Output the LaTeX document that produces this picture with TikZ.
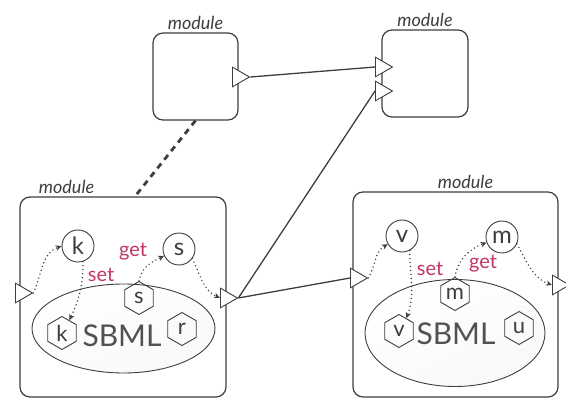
\documentclass[tikz,border=0pt]{standalone}
\usepackage{fontspec}
\setmainfont{Lato}
\usetikzlibrary{shapes.geometric,arrows.meta}

\definecolor{linegray}{RGB}{62,62,62}
\definecolor{setget}{RGB}{196,52,104}

\tikzset{
  modbox/.style={draw=linegray, line width=1.2pt, rounded corners=10pt},
  modlabel/.style={font=\itshape\fontsize{18}{18}\selectfont, text=linegray},
  port/.style={isosceles triangle, isosceles triangle apex angle=60, draw=linegray,
    fill=white, line width=0.9pt, inner sep=0pt, minimum size=17pt},
  state/.style={circle, draw=linegray, line width=0.9pt, inner sep=1pt,
    minimum size=32pt, font=\fontsize{24}{24}\selectfont, text=linegray},
  species/.style={regular polygon, regular polygon sides=6, shape border rotate=30,
    draw=linegray, line width=0.9pt, inner sep=0pt, minimum size=33pt,
    font=\fontsize{22}{22}\selectfont, text=linegray},
  sbml/.style={ellipse, draw=linegray, line width=0.9pt, top color=white,
    bottom color=red!5!gray!5, shading angle=25},
  sbmltext/.style={font=\fontsize{30}{30}\selectfont, text=linegray!90},
  access/.style={font=\fontsize{20}{20}\selectfont, text=setget},
  dotarr/.style={draw=linegray, line width=1.6pt, line cap=round,
    dash pattern=on 0pt off 4pt, -{Stealth[length=6pt,width=5.5pt]}},
  wire/.style={draw=linegray, line width=1.3pt},
}

\begin{document}
\begin{tikzpicture}[x=1pt,y=-1pt]
  \useasboundingbox (0,0) rectangle (566,401);

  % module boxes
  \node (tlbox) [modbox, minimum width=85pt, minimum height=87pt,
    label={[modlabel, label distance=-1pt]above:module}] at (195.5,76.5) {};
  \node (trbox) [modbox, minimum width=86pt, minimum height=87pt,
    label={[modlabel, label distance=-1pt]above:module}] at (425,73.5) {};
  \node (lbox) [modbox, minimum width=206pt, minimum height=200pt,
    label={[modlabel, anchor=south west, xshift=16pt, yshift=-1pt]north west:module}] at (123,297) {};
  \node (rbox) [modbox, minimum width=205pt, minimum height=205pt,
    label={[modlabel, xshift=10pt, label distance=-1pt]above:module}] at (455.5,294.5) {};

  % sbml models
  \node (lsbml) [sbml, minimum width=183pt, minimum height=89pt] at (123.5,328.5) {};
  \node (rsbml) [sbml, minimum width=180pt, minimum height=107pt] at (455,333) {};
  \node (ltext) [sbmltext] at (122,336) {SBML};
  \node (rtext) [sbmltext] at (456,334) {SBML};

  % ports
  \node (tlport) [port, anchor=west] at (232,77) {};
  \node (tr1) [port, anchor=west] at (375,67) {};
  \node (tr2) [port, anchor=west] at (375,91) {};
  \node (lin) [port, anchor=west] at (15,293) {};
  \node (lout) [port, anchor=west] at (220,298) {};
  \node (rin) [port, anchor=west] at (350,278) {};
  \node (rout) [port, anchor=west] at (552,285) {};

  % variables of the left module
  \node (k) [state] at (78,246) {k};
  \node (s) [state] at (179,249) {s};
  \node (hs) [species] at (139,298) {s};
  \node (hk) [species] at (62,333) {k};
  \node (hr) [species] at (182,329) {r};
  \node (lset) [access] at (101,275) {set};
  \node (lget) [access] at (133,252) {get};

  % variables of the right module
  \node (v) [state] at (402,236) {v};
  \node (m) [state] at (502,237) {m};
  \node (hm) [species] at (455,294) {m};
  \node (hv) [species] at (399,331) {v};
  \node (hu) [species] at (519,328) {u};
  \node (rset) [access] at (430,269) {set};
  \node (rget) [access] at (483,264) {get};

  % connections
  \draw [wire] (tlport.apex) -- (tr1.west);
  \draw [wire] (lout.apex) -- (tr2.west);
  \draw [wire] (lout.apex) -- (rin.west);
  \draw [draw=linegray, line width=2.8pt, dash pattern=on 6pt off 5pt]
    (tlbox.south) -- ([xshift=12pt]lbox.north);

  \draw [dotarr] (lin.apex) to[out=65,in=200] (k.west);
  \draw [dotarr] (k.-72) to[out=-90,in=65] (hk.60);
  \draw [dotarr] (hs.north) to[out=80,in=205] (s.205);
  \draw [dotarr] (s.-35) to[out=-65,in=155] (lout.west);

  \draw [dotarr] (rin.apex) to[out=60,in=210] (v.210);
  \draw [dotarr] (v.-62) to[out=-90,in=70] (hv.60);
  \draw [dotarr] (hm.north) to[out=80,in=200] (m.200);
  \draw [dotarr] (m.-25) to[out=-60,in=160] (rout.west);
\end{tikzpicture}
\end{document}
